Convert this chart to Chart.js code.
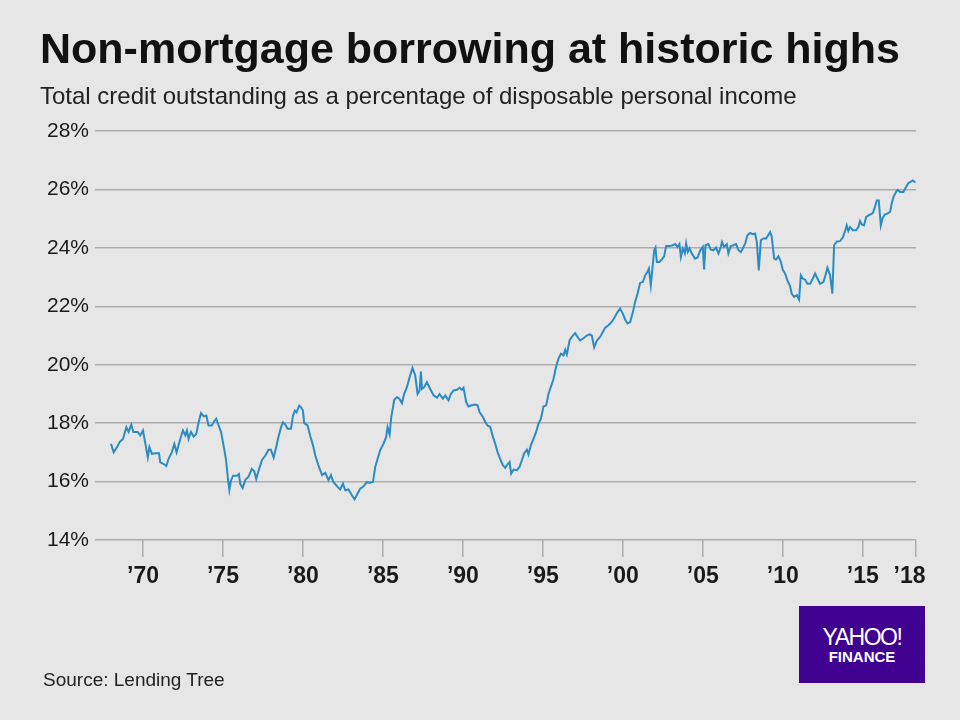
<!DOCTYPE html>
<html>
<head>
<meta charset="utf-8">
<script src="https://cdn.jsdelivr.net/npm/chart.js@4.4.1/dist/chart.umd.min.js"></script>
<style>
  html, body { margin: 0; padding: 0; }
  body {
    width: 960px; height: 720px; background: #e6e6e6;
    position: relative; overflow: hidden;
    font-family: "Liberation Sans", Arial, sans-serif;
  }
  #chart { position: absolute; left: 0; top: 0; }
  .txt { position: absolute; line-height: 1; white-space: nowrap; }
  #title { left: 40px; top: 27px; font-size: 43px; font-weight: bold; color: #111; }
  #subtitle { left: 40px; top: 84px; font-size: 24px; color: #222; }
  #source { left: 43px; top: 670px; font-size: 19px; color: #222; }
  #logo { position: absolute; left: 799px; top: 606px; width: 126px; height: 77px; background: #400090; color: #fff; }
  #logo .txt { left: 0; width: 126px; text-align: center; }
  #yahoo { top: 20px; font-size: 23px; letter-spacing: -1.5px; }
  #finance { top: 43px; font-size: 15px; font-weight: bold; }
</style>
</head>
<body>
<canvas id="chart" width="960" height="720"></canvas>
<div class="txt" id="title">Non-mortgage borrowing at historic highs</div>
<div class="txt" id="subtitle">Total credit outstanding as a percentage of disposable personal income</div>
<div class="txt" id="source">Source: Lending Tree</div>
<div id="logo">
  <div class="txt" id="yahoo">YAHOO!</div>
  <div class="txt" id="finance">FINANCE</div>
</div>
<script>
// Non-mortgage credit outstanding, % of disposable personal income
const years = [
    1968.0, 1968.17, 1968.38, 1968.54, 1968.75, 1968.96, 1969.1, 1969.27, 1969.4, 1969.67, 1969.83,
    1970.0, 1970.15, 1970.3, 1970.4, 1970.56, 1970.77, 1971.0, 1971.08, 1971.3, 1971.46, 1971.6, 1971.8, 1971.96,
    1972.1, 1972.33, 1972.5, 1972.65, 1972.75, 1972.85, 1973.0, 1973.17, 1973.33, 1973.48, 1973.63, 1973.8, 1973.96,
    1974.1, 1974.3, 1974.46, 1974.58, 1974.73, 1974.88, 1975.04, 1975.2, 1975.3, 1975.4, 1975.5, 1975.63, 1975.88,
    1976.0, 1976.08, 1976.23, 1976.4, 1976.6, 1976.8, 1976.96, 1977.08, 1977.23, 1977.44, 1977.65, 1977.85,
    1978.0, 1978.17, 1978.33, 1978.48, 1978.63, 1978.75, 1978.9, 1979.04, 1979.25, 1979.38, 1979.5, 1979.6, 1979.77, 1979.88,
    1980.0, 1980.08, 1980.29, 1980.46, 1980.63, 1980.77, 1981.0, 1981.2, 1981.4, 1981.6, 1981.75, 1981.9,
    1982.17, 1982.33, 1982.5, 1982.65, 1982.85, 1983.06, 1983.23, 1983.42, 1983.58, 1983.79,
    1984.0, 1984.17, 1984.38, 1984.52, 1984.67, 1984.83, 1985.04, 1985.2, 1985.29, 1985.42, 1985.52, 1985.71, 1985.88,
    1986.04, 1986.19, 1986.33, 1986.5, 1986.67, 1986.85, 1987.02, 1987.17, 1987.29, 1987.38, 1987.44, 1987.58, 1987.75, 1987.96,
    1988.17, 1988.38, 1988.54, 1988.75, 1988.9, 1989.1, 1989.25, 1989.42, 1989.63, 1989.79, 1989.94,
    1990.04, 1990.21, 1990.35, 1990.56, 1990.77, 1990.92, 1991.04, 1991.25, 1991.4, 1991.54, 1991.71, 1991.88,
    1992.02, 1992.17, 1992.33, 1992.5, 1992.65, 1992.79, 1992.92, 1993.02, 1993.17, 1993.38, 1993.54, 1993.69, 1993.83,
    1994.0, 1994.1, 1994.25, 1994.42, 1994.58, 1994.73, 1994.88, 1995.04, 1995.21, 1995.35, 1995.5, 1995.67, 1995.83, 1995.98,
    1996.13, 1996.29, 1996.4, 1996.5, 1996.67, 1996.81, 1997.02, 1997.17, 1997.33, 1997.5, 1997.75, 1997.92,
    1998.06, 1998.21, 1998.38, 1998.58, 1998.9, 1999.1, 1999.3, 1999.5, 1999.67, 1999.83,
    2000.0, 2000.15, 2000.29, 2000.46, 2000.63, 2000.77, 2000.92, 2001.08, 2001.25, 2001.4, 2001.54, 2001.63, 2001.75, 2001.88, 2001.96,
    2002.04, 2002.13, 2002.29, 2002.44, 2002.58, 2002.71, 2002.92, 2003.13, 2003.27, 2003.42, 2003.54, 2003.63, 2003.75, 2003.88, 2003.96,
    2004.06, 2004.17, 2004.31, 2004.52, 2004.67, 2004.83, 2005.0, 2005.08, 2005.17, 2005.35, 2005.5, 2005.67, 2005.83, 2005.98,
    2006.13, 2006.2, 2006.33, 2006.5, 2006.6, 2006.75, 2006.92, 2007.08, 2007.23, 2007.38, 2007.5, 2007.65, 2007.79, 2007.96,
    2008.13, 2008.27, 2008.38, 2008.5, 2008.63, 2008.79, 2008.96, 2009.21, 2009.31, 2009.46, 2009.58, 2009.73, 2009.88,
    2010.0, 2010.15, 2010.29, 2010.46, 2010.56, 2010.71, 2010.88, 2011.02, 2011.13, 2011.25, 2011.4, 2011.54, 2011.71, 2011.88,
    2012.02, 2012.17, 2012.33, 2012.54, 2012.67, 2012.79, 2012.96, 2013.1, 2013.21, 2013.38, 2013.58, 2013.75, 2013.9,
    2014.0, 2014.1, 2014.21, 2014.38, 2014.58, 2014.73, 2014.83, 2014.94, 2015.08, 2015.21, 2015.35, 2015.5, 2015.63, 2015.73, 2015.88,
    2016.0, 2016.13, 2016.25, 2016.4, 2016.54, 2016.71, 2016.81, 2016.92, 2017.08, 2017.19, 2017.33, 2017.54, 2017.71, 2017.85, 2017.96,
    2018.13, 2018.29
];
const creditPct = [
    17.29, 17.0, 17.18, 17.35, 17.46, 17.86, 17.7, 17.95, 17.7, 17.7, 17.58,
    17.75, 17.3, 16.83, 17.18, 16.95, 16.97, 16.97, 16.66, 16.6, 16.53, 16.78, 17.0, 17.29,
    17.0, 17.46, 17.75, 17.58, 17.75, 17.46, 17.7, 17.54, 17.63, 18.03, 18.34, 18.23, 18.26,
    17.92, 17.92, 18.07, 18.15, 17.92, 17.7, 17.23, 16.72, 16.15, 15.71, 16.03, 16.2, 16.2,
    16.26, 15.92, 15.78, 16.06, 16.17, 16.43, 16.35, 16.09, 16.38, 16.74, 16.89, 17.09,
    17.09, 16.82, 17.18, 17.55, 17.86, 18.03, 17.95, 17.81, 17.81, 18.26, 18.43, 18.37, 18.6, 18.55,
    18.43, 18.0, 17.92, 17.55, 17.24, 16.9, 16.5, 16.22, 16.3, 16.05, 16.22, 15.99,
    15.82, 15.73, 15.93, 15.7, 15.73, 15.53, 15.39, 15.59, 15.76, 15.84,
    15.99, 15.95, 15.99, 16.5, 16.78, 17.07, 17.3, 17.52, 17.86, 17.61, 18.2, 18.8, 18.89,
    18.83, 18.68, 19.0, 19.23, 19.57, 19.89, 19.63, 19.0, 19.11, 19.77, 19.17, 19.23, 19.4, 19.17,
    18.95, 18.87, 18.99, 18.84, 18.95, 18.78, 19.0, 19.12, 19.14, 19.21, 19.14,
    19.21, 18.72, 18.57, 18.61, 18.64, 18.61, 18.38, 18.21, 18.04, 17.92, 17.87, 17.53,
    17.3, 17.01, 16.78, 16.56, 16.47, 16.59, 16.67, 16.27, 16.41, 16.39, 16.5, 16.73, 16.96,
    17.09, 16.93, 17.24, 17.47, 17.7, 17.98, 18.15, 18.57, 18.61, 19.0, 19.24, 19.52, 19.94, 20.21,
    20.38, 20.32, 20.51, 20.35, 20.83, 20.95, 21.08, 20.95, 20.83, 20.89, 21.0, 21.04,
    21.0, 20.6, 20.83, 20.95, 21.27, 21.35, 21.46, 21.63, 21.8, 21.92,
    21.75, 21.54, 21.41, 21.46, 21.8, 22.15, 22.43, 22.8, 22.83, 23.06, 23.18, 23.29, 22.72, 23.46, 23.92,
    24.01, 23.52, 23.52, 23.6, 23.71, 24.06, 24.06, 24.09, 24.13, 24.03, 24.13, 23.69, 23.98, 23.81, 24.15,
    23.86, 23.98, 23.81, 23.63, 23.67, 23.9, 24.03, 23.26, 24.09, 24.13, 23.94, 23.92, 24.01, 23.81,
    24.03, 24.2, 24.03, 24.13, 23.81, 24.06, 24.09, 24.13, 23.92, 23.86, 23.98, 24.15, 24.43, 24.51,
    24.47, 24.49, 24.2, 23.23, 24.26, 24.32, 24.32, 24.54, 24.39, 23.63, 23.6, 23.71, 23.52,
    23.25, 23.12, 22.89, 22.68, 22.43, 22.32, 22.38, 22.23, 23.06, 22.95, 22.91, 22.77, 22.77, 22.95,
    23.12, 22.95, 22.77, 22.83, 23.06, 23.32, 23.06, 22.43, 24.09, 24.22, 24.23, 24.35, 24.58,
    24.77, 24.58, 24.71, 24.6, 24.6, 24.71, 24.92, 24.8, 24.77, 25.05, 25.11, 25.15, 25.19, 25.34, 25.62,
    25.62, 24.77, 25.03, 25.15, 25.17, 25.23, 25.51, 25.74, 25.91, 25.99, 25.91, 25.91, 26.08, 26.22, 26.25,
    26.31, 26.24
];

const xTickYears = [1970, 1975, 1980, 1985, 1990, 1995, 2000, 2005, 2010, 2015, 2018.33];
const xTickLabels = ["’70", "’75", "’80", "’85", "’90", "’95", "’00", "’05", "’10", "’15", "’18  "];
const yMin = 14, yMax = 28, yStep = 2;
const xMin = 1967, xMax = 2018.33;

const gridColor = "#acacac";
const fontFamily = "'Liberation Sans', Arial, sans-serif";

document.addEventListener("DOMContentLoaded", function () {
    const ctx = document.getElementById("chart");
    new Chart(ctx, {
        type: "line",
        data: {
            datasets: [
                {
                    label: "Credit outstanding",
                    data: years.map((yr, i) => ({ x: yr, y: creditPct[i] })),
                    borderColor: "#2b8cc4",
                    borderWidth: 2,
                    pointRadius: 0,
                    tension: 0,
                    fill: false,
                },
            ],
        },
        options: {
            responsive: false,
            animation: false,
            layout: { padding: { top: 131, right: 44, left: 0, bottom: 0 } },
            plugins: {
                legend: { display: false },
                tooltip: { enabled: false },
            },
            scales: {
                x: {
                    type: "linear",
                    min: xMin,
                    max: xMax,
                    afterBuildTicks: (s) => { s.ticks = xTickYears.map((v) => ({ value: v })); },
                    afterFit: (s) => { s.height = 180; },
                    border: { display: false },
                    grid: {
                        drawOnChartArea: false,
                        drawTicks: true,
                        tickLength: 17,
                        color: gridColor,
                        lineWidth: 1.5,
                    },
                    ticks: {
                        autoSkip: false,
                        maxRotation: 0,
                        padding: 6,
                        color: "#1a1a1a",
                        font: { family: fontFamily, size: 23, weight: "bold" },
                        callback: (value, index) => xTickLabels[index],
                    },
                },
                y: {
                    min: yMin,
                    max: yMax,
                    afterFit: (s) => { s.width = 95; },
                    border: { display: false },
                    grid: { color: gridColor, lineWidth: 1.5, drawTicks: false },
                    ticks: {
                        stepSize: yStep,
                        padding: 6,
                        color: "#1a1a1a",
                        font: { family: fontFamily, size: 21 },
                        callback: (v) => v + "%",
                    },
                },
            },
        },
    });
});
</script>
</body>
</html>
